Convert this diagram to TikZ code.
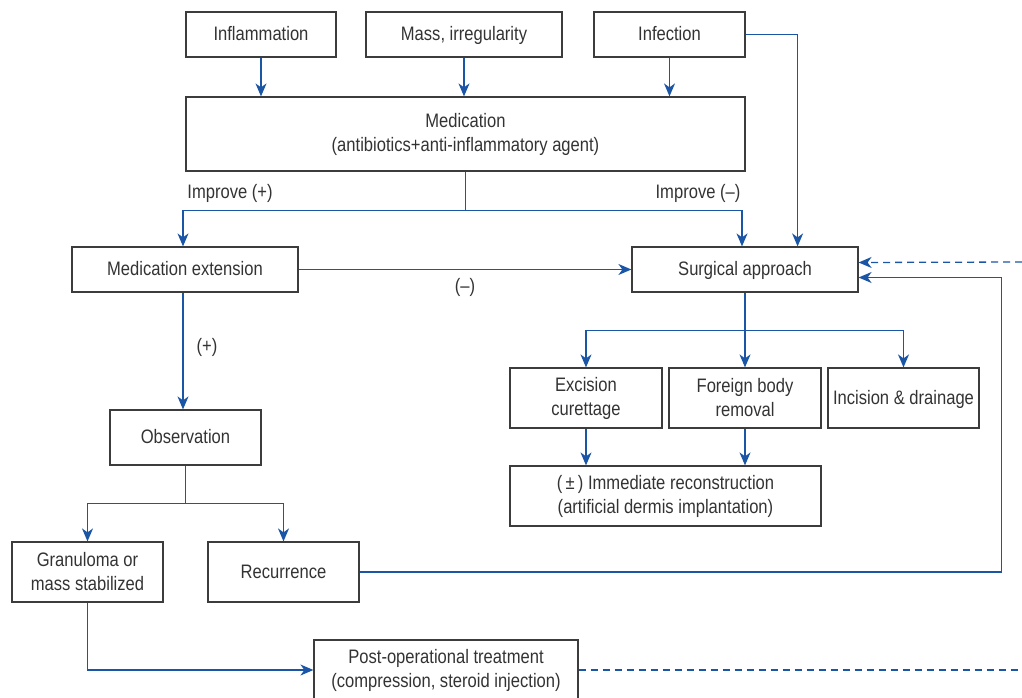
\documentclass[tikz,border=0pt]{standalone}
\usepackage{fontspec}
\setmainfont{Liberation Sans}[FakeStretch=0.85]
\usetikzlibrary{positioning}
\usetikzlibrary{arrows.meta}
\usetikzlibrary{calc}
\definecolor{lineblue}{HTML}{1B55A6}
\definecolor{boxgray}{HTML}{3C3C3C}
\definecolor{txtgray}{HTML}{333333}
\tikzset{>={Stealth[length=13pt,width=11pt,inset=4pt]}}
\tikzset{box/.style={draw=boxgray, line width=1.2pt, inner sep=0pt, align=center, text=txtgray}}
\tikzset{oneline/.style={text height=14pt, text depth=1.5pt}}
\tikzset{flow/.style={draw=lineblue, line width=1.3pt}}
\tikzset{lbl/.style={text=txtgray, inner sep=1pt, text height=14pt, text depth=1.5pt}}
\begin{document}
\begin{tikzpicture}[x=1pt, y=-1pt, font=\fontsize{19.5}{24}\selectfont]
        \useasboundingbox (0,0) rectangle (1022,698);

        \node[box, oneline, minimum width=150, minimum height=45] (infl) at (261,34.5) {Inflammation};
        \node[box, oneline, minimum width=196, minimum height=45] (mass) at (464,34.5) {Mass, irregularity};
        \node[box, oneline, minimum width=151, minimum height=45] (infec) at (669.5,34.5) {Infection};

        \node[box, minimum width=559, minimum height=74] (med) at (465.5,134) {Medication\\(antibiotics+anti-inflammatory agent)};

        \node[box, oneline, minimum width=226, minimum height=45] (medext) at (185,269.5) {Medication extension};
        \node[box, oneline, minimum width=226, minimum height=45] (surg) at (745,269.5) {Surgical approach};

        \node[box, oneline, minimum width=151, minimum height=55] (obs) at (185.5,437.5) {Observation};
        \node[box, minimum width=151, minimum height=60] (gran) at (87.5,572) {Granuloma or\\mass stabilized};
        \node[box, oneline, minimum width=151, minimum height=60] (recur) at (283.5,572) {Recurrence};
        \node[box, minimum width=264, minimum height=60] (post) at (446,670) {Post-operational treatment\\(compression, steroid injection)};

        \node[box, minimum width=152, minimum height=60] (exc) at (586,398) {Excision\\curettage};
        \node[box, minimum width=152, minimum height=60] (foreign) at (745,398) {Foreign body\\removal};
        \node[box, oneline, minimum width=151, minimum height=60] (incis) at (903.5,398) {Incision \& drainage};
        \node[box, minimum width=311, minimum height=60] (recon) at (665.5,496) {(\,±\,) Immediate reconstruction\\(artificial dermis implantation)};

        \node[lbl] (impp) at (230,192) {Improve (+)};
        \node[lbl] (impm) at (698,192) {Improve (–)};
        \node[lbl] (neg) at (465,286) {(–)};
        \node[lbl] (pos) at (207,346) {(+)};

        \coordinate (dashin) at (1022,262);
        \coordinate (dashout) at (1022,670);

        % first symptoms into medication
        \draw [flow, ->] (infl.south) -- (infl.south |- med.north);
        \draw [flow, ->] (mass.south) -- (mass.south |- med.north);
        \draw [flow, ->] (infec.south) -- (infec.south |- med.north);
        \draw [flow, ->] (infec.east) -| ([xshift=-61pt]surg.north east);

        % medication outcome
        \draw [flow] (med.south) -- ++(0,39) coordinate (medfork);
        \draw [flow, ->] (medfork) -| ([xshift=-2pt]medext.north);
        \draw [flow, ->] (medfork) -| ([xshift=-3pt]surg.north);
        \draw [flow, ->] (medext.east) -- (surg.west);
        \draw [flow, ->] ([xshift=-2pt]medext.south) -- ([xshift=-2pt]medext.south |- obs.north);

        % observation
        \draw [flow] (obs.south) -- ++(0,38) coordinate (obsfork);
        \draw [flow, ->] (obsfork) -| (gran.north);
        \draw [flow, ->] (obsfork) -| (recur.north);
        \draw [flow, ->] (gran.south) |- (post.west);
        \draw [flow, ->] (recur.east) -- ++(642,0) |- ([yshift=-8pt]surg.east);

        % surgery
        \draw [flow] (surg.south) -- ++(0,38) coordinate (surgfork);
        \draw [flow, ->] (surgfork) -| (exc.north);
        \draw [flow, ->] (surgfork) -- (foreign.north);
        \draw [flow, ->] (surgfork) -| (incis.north);
        \draw [flow, ->] (exc.south) -- (exc.south |- recon.north);
        \draw [flow, ->] (foreign.south) -- (foreign.south |- recon.north);

        % loops going off the page
        \draw [flow, dashed, dash pattern=on 7pt off 5pt, ->] (dashin) -- ([yshift=7pt]surg.east);
        \draw [flow, dashed, dash pattern=on 7pt off 5pt] (post.east) -- (dashout);
    \end{tikzpicture}
\end{document}
